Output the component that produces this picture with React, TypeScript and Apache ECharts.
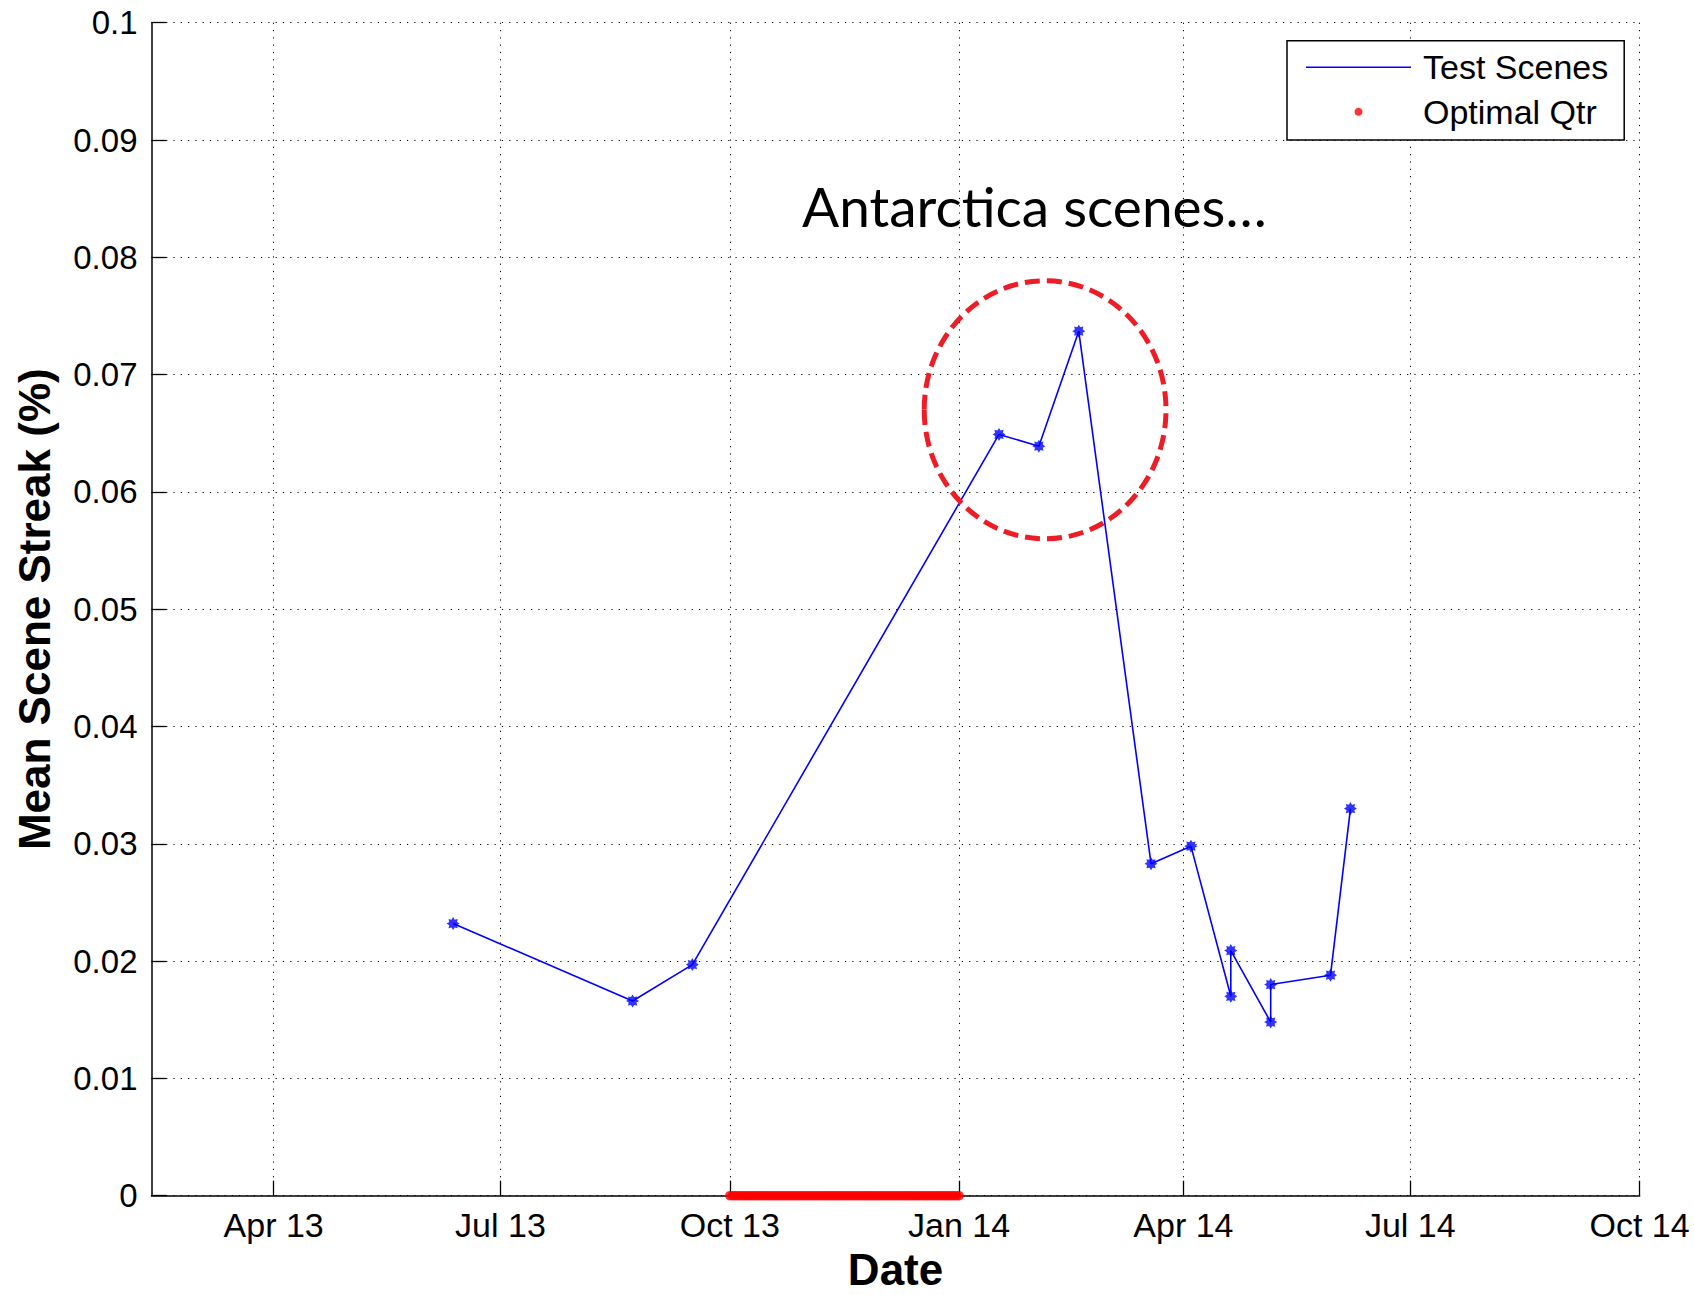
import { useEffect, useRef } from "react";
import * as echarts from "echarts";

// Mean scene streak per test scene (acquisition date, percent)
const sceneDates = [
  "2013-06-12", "2013-08-23", "2013-09-16",
  "2014-01-17", "2014-02-02", "2014-02-18",
  "2014-03-19", "2014-04-04", "2014-04-20", "2014-04-20",
  "2014-05-06", "2014-05-06", "2014-05-30", "2014-06-07",
];
const sceneStreak = [
  0.0232, 0.0166, 0.0197,
  0.0649, 0.0639, 0.0737,
  0.0283, 0.0298, 0.0170, 0.0209,
  0.0148, 0.0180, 0.0188, 0.0330,
];

// Optimal quarter, marked along the zero line, one point per day
const optimalQtr = ["2013-10-01", "2014-01-01"];
const optimalValue = 0;

// Axis range and quarterly ticks
const xRange = ["2013-02-11", "2014-10-01"];
const quarterTicks = [
  "2013-04-01", "2013-07-01", "2013-10-01", "2014-01-01",
  "2014-04-01", "2014-07-01", "2014-10-01",
];
const quarterLabels = ["Apr 13", "Jul 13", "Oct 13", "Jan 14", "Apr 14", "Jul 14", "Oct 14"];
const yRange = [0, 0.1];
const yStep = 0.01;

// Highlight around the Antarctica scenes, given in data space
const highlightDates = ["2013-12-18", "2014-03-25"];
const highlightValues = [0.056, 0.078];
const noteText = "Antarctica scenes\u2026";
const noteAnchor = { date: "2013-10-30", value: 0.0844 };

const FONT = "'Liberation Sans', Arial, Helvetica, sans-serif";

function toTime(s: string): number {
  const [y, m, d] = s.split("-").map(Number);
  return new Date(y, m - 1, d).getTime();
}

function dailyPoints(from: string, to: string, value: number): [number, number][] {
  const [y, m, d] = from.split("-").map(Number);
  const end = toTime(to);
  const out: [number, number][] = [];
  for (let i = 0; ; i++) {
    const t = new Date(y, m - 1, d + i).getTime();
    if (t > end) break;
    out.push([t, value]);
  }
  return out;
}

// Eight-pointed star, close to MATLAB's '*' marker once filled
const STAR =
  "path://M10 0L6 2.5L7.07 7.07L2.5 6L0 10L-2.5 6L-7.07 7.07L-6 2.5L-10 0L-6 -2.5L-7.07 -7.07L-2.5 -6L0 -10L2.5 -6L7.07 -7.07L6 -2.5Z";
// Plain line used as the legend icon of the test-scene trace
const LINE_ICON = "path://M0 0H105V1.6H0Z";

export default function App() {
  const ref = useRef<HTMLDivElement>(null);

  useEffect(() => {
    const chart = echarts.init(ref.current!, null, { renderer: "svg" });
    const scenePoints = sceneDates.map((d, i) => [toTime(d), sceneStreak[i]]);
    const tickTimes = quarterTicks.map(toTime);

    chart.setOption({
      animation: false,
      backgroundColor: "#ffffff",
      grid: { left: 151.5, right: 54.4, top: 22.7, bottom: 99.3, outerBoundsMode: "none", containLabel: false },
      legend: {
        orient: "vertical",
        left: 1287,
        top: 40.7,
        data: [
          { name: "Test Scenes", icon: LINE_ICON },
          { name: "Optimal Qtr", icon: "circle" },
        ],
        itemWidth: 105,
        itemHeight: 8,
        itemGap: 6.4,
        padding: [7.6, 16, 9.3, 19],
        backgroundColor: "#ffffff",
        borderColor: "#000000",
        borderWidth: 1.5,
        borderRadius: 0,
        selectedMode: false,
        textStyle: { fontFamily: FONT, fontSize: 34, color: "#000", lineHeight: 38, padding: [0, 0, 0, 7] },
      },
      xAxis: {
        type: "value",
        min: toTime(xRange[0]),
        max: toTime(xRange[1]),
        name: "Date",
        nameLocation: "middle",
        nameGap: 56,
        nameMoveOverlap: false,
        nameTextStyle: { fontFamily: FONT, fontSize: 44, fontWeight: "bold", color: "#000", lineHeight: 36 },
        axisLine: { show: true, onZero: false, lineStyle: { color: "#000", width: 1.5 } },
        axisTick: { show: true, inside: true, length: 15, customValues: tickTimes, lineStyle: { color: "#000", width: 1.3 } },
        axisLabel: {
          show: true,
          customValues: tickTimes,
          formatter: (v: number) => {
            const i = tickTimes.findIndex((t) => Math.abs(t - v) < 1000);
            return i >= 0 ? quarterLabels[i] : "";
          },
          fontFamily: FONT,
          fontSize: 34,
          color: "#000",
          margin: 12,
          hideOverlap: false,
        },
        splitLine: { show: true, lineStyle: { color: "#000", width: 1, type: [1.2, 6.1] } },
      },
      yAxis: {
        type: "value",
        min: yRange[0],
        max: yRange[1],
        interval: yStep,
        name: "Mean Scene Streak (%)",
        nameLocation: "middle",
        nameGap: 95,
        nameMoveOverlap: false,
        nameTextStyle: { fontFamily: FONT, fontSize: 44, fontWeight: "bold", color: "#000", lineHeight: 44 },
        axisLine: { show: true, lineStyle: { color: "#000", width: 1.5 } },
        axisTick: { show: true, inside: true, length: 15, lineStyle: { color: "#000", width: 1.3 } },
        axisLabel: {
          show: true,
          formatter: (v: number) => String(parseFloat(v.toFixed(3))),
          fontFamily: FONT,
          fontSize: 33,
          color: "#000",
          margin: 14,
        },
        splitLine: { show: true, lineStyle: { color: "#000", width: 1, type: [1.2, 6.1] } },
      },
      series: [
        {
          name: "Test Scenes",
          type: "line",
          data: scenePoints,
          symbol: "none",
          color: "#0000ff",
          lineStyle: { color: "#0000ff", width: 1.6 },
          z: 3,
        },
        {
          name: "Test Scene Markers",
          type: "scatter",
          data: scenePoints,
          symbol: STAR,
          symbolSize: 13,
          itemStyle: { color: "#0000ff" },
          z: 4,
        },
        {
          name: "Optimal Qtr",
          type: "scatter",
          data: dailyPoints(optimalQtr[0], optimalQtr[1], optimalValue),
          symbol: "circle",
          symbolSize: 9.5,
          color: "#ff0000",
          itemStyle: { color: "#ff0000" },
          z: 5,
        },
      ],
    });

    const px = (d: string, v: number) => chart.convertToPixel({ gridIndex: 0 }, [toTime(d), v]) as number[];
    const a = px(highlightDates[0], highlightValues[1]);
    const b = px(highlightDates[1], highlightValues[0]);
    const n = px(noteAnchor.date, noteAnchor.value);

    chart.setOption({
      graphic: [
        {
          type: "ellipse",
          z: 100,
          shape: { cx: (a[0] + b[0]) / 2, cy: (a[1] + b[1]) / 2, rx: (b[0] - a[0]) / 2, ry: (b[1] - a[1]) / 2 },
          style: { fill: "none", stroke: "#ee1c25", lineWidth: 5, lineDash: [15, 7] },
        },
        {
          type: "text",
          z: 100,
          x: n[0],
          y: n[1],
          style: {
            text: noteText,
            fontFamily: "Lato, 'Noto Sans', sans-serif",
            fontSize: 55,
            fontWeight: 400,
            fill: "#000",
            align: "left",
            verticalAlign: "middle",
            textAlign: "left",
            textVerticalAlign: "middle",
          },
        },
      ],
    });

    return () => chart.dispose();
  }, []);

  return (
    <div
      ref={ref}
      style={{ position: "fixed", left: 0, top: 0, width: 1694, height: 1295, background: "#fff" }}
    />
  );
}
